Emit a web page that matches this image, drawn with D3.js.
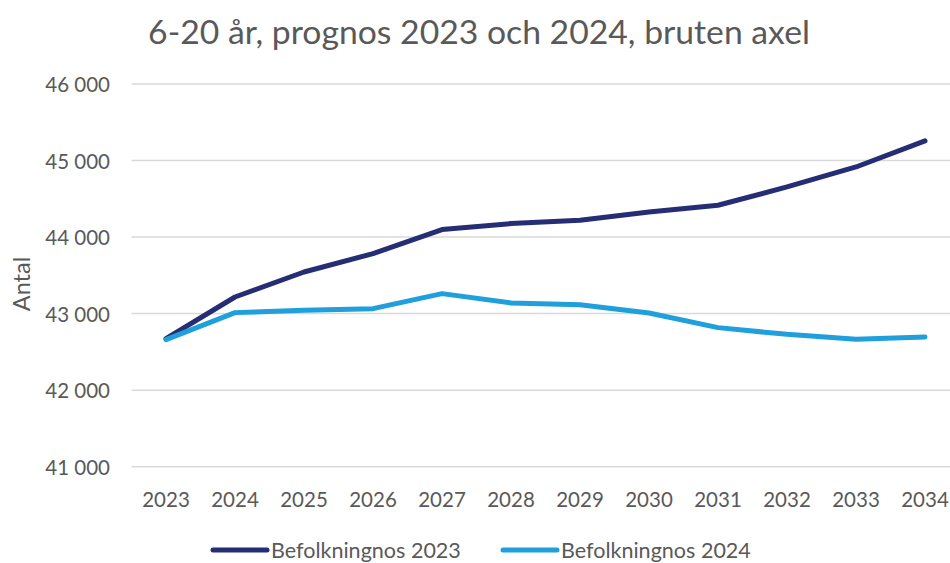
<!DOCTYPE html>
<html>
<head>
<meta charset="utf-8">
<script src="https://cdn.jsdelivr.net/npm/d3@7"></script>
<style>
  body { margin: 0; background: #fff; }
  text { font-family: Lato, "Open Sans", sans-serif; fill: #595959; }
</style>
</head>
<body>
<svg id="chart" width="950" height="563"></svg>
<script>
const years = ['2023', '2024', '2025', '2026', '2027', '2028', '2029', '2030', '2031', '2032', '2033', '2034'];
const prognos2023 = [42673, 43217, 43544, 43784, 44098, 44176, 44220, 44328, 44416, 44655, 44916, 45256];
const prognos2024 = [42660, 43013, 43043, 43065, 43261, 43139, 43117, 43008, 42817, 42729, 42664, 42694];
const yTicks = [41000, 42000, 43000, 44000, 45000, 46000];
const seriesNames = ['Befolkningnos 2023', 'Befolkningnos 2024'];
const seriesColors = ['#252d74', '#1f9fdb'];

const svg = d3.select('#chart');
const width = 950;
const height = 563;

const x = d3.scaleBand().domain(years).range([131.5, 959.5]);
const y = d3.scaleLinear().domain([41000, 46000]).range([466.7, 84]);

const sv = d3.formatLocale({ decimal: ',', thousands: '\u00a0', grouping: [3], currency: ['', ''] });
const fmt = sv.format(',d');

// size a text so it spans the given width
function fitWidth(sel, target) {
  const size = +sel.attr('font-size');
  const w = sel.node().getComputedTextLength();
  sel.attr('font-size', size * target / w);
}

// gridlines
svg.append('g')
  .selectAll('line')
  .data(yTicks)
  .join('line')
  .attr('x1', 131.5)
  .attr('x2', width)
  .attr('y1', d => y(d))
  .attr('y2', d => y(d))
  .attr('stroke', '#d9d9d9')
  .attr('stroke-width', 1.5);

// y labels
svg.append('g')
  .selectAll('text')
  .data(yTicks)
  .join('text')
  .attr('x', 110)
  .attr('y', d => y(d))
  .attr('text-anchor', 'end')
  .attr('dominant-baseline', 'central')
  .attr('font-size', 20.5)
  .text(d => fmt(d));

// x labels
svg.append('g')
  .selectAll('text')
  .data(years)
  .join('text')
  .attr('x', d => x(d) + x.bandwidth() / 2)
  .attr('y', 499)
  .attr('text-anchor', 'middle')
  .attr('dominant-baseline', 'central')
  .attr('font-size', 20.5)
  .text(d => d);

// axis title
svg.append('text')
  .attr('transform', 'translate(30,284) rotate(-90)')
  .attr('text-anchor', 'middle')
  .attr('font-size', 23.5)
  .text('Antal');

// title
const title = svg.append('text')
  .attr('x', 479)
  .attr('y', 31)
  .attr('text-anchor', 'middle')
  .attr('dominant-baseline', 'central')
  .attr('font-size', 31)
  .text('6-20 år, prognos 2023 och 2024, bruten axel');
fitWidth(title, 662);

// lines
const line = d3.line()
  .x((d, i) => x(years[i]) + x.bandwidth() / 2)
  .y(d => y(d));

[prognos2023, prognos2024].forEach((vals, i) => {
  svg.append('path')
    .datum(vals)
    .attr('fill', 'none')
    .attr('stroke', seriesColors[i])
    .attr('stroke-width', 5)
    .attr('stroke-linecap', 'round')
    .attr('stroke-linejoin', 'round')
    .attr('d', line);
});

// legend
const legendX = [213, 503];
seriesNames.forEach((name, i) => {
  const g = svg.append('g').attr('transform', `translate(${legendX[i]},550)`);
  g.append('line')
    .attr('x1', 0).attr('x2', 54)
    .attr('stroke', seriesColors[i])
    .attr('stroke-width', 5)
    .attr('stroke-linecap', 'round');
  const t = g.append('text')
    .attr('x', 58)
    .attr('dominant-baseline', 'central')
    .attr('font-size', 18)
    .text(name);
  fitWidth(t, 190);
});
</script>
</body>
</html>
